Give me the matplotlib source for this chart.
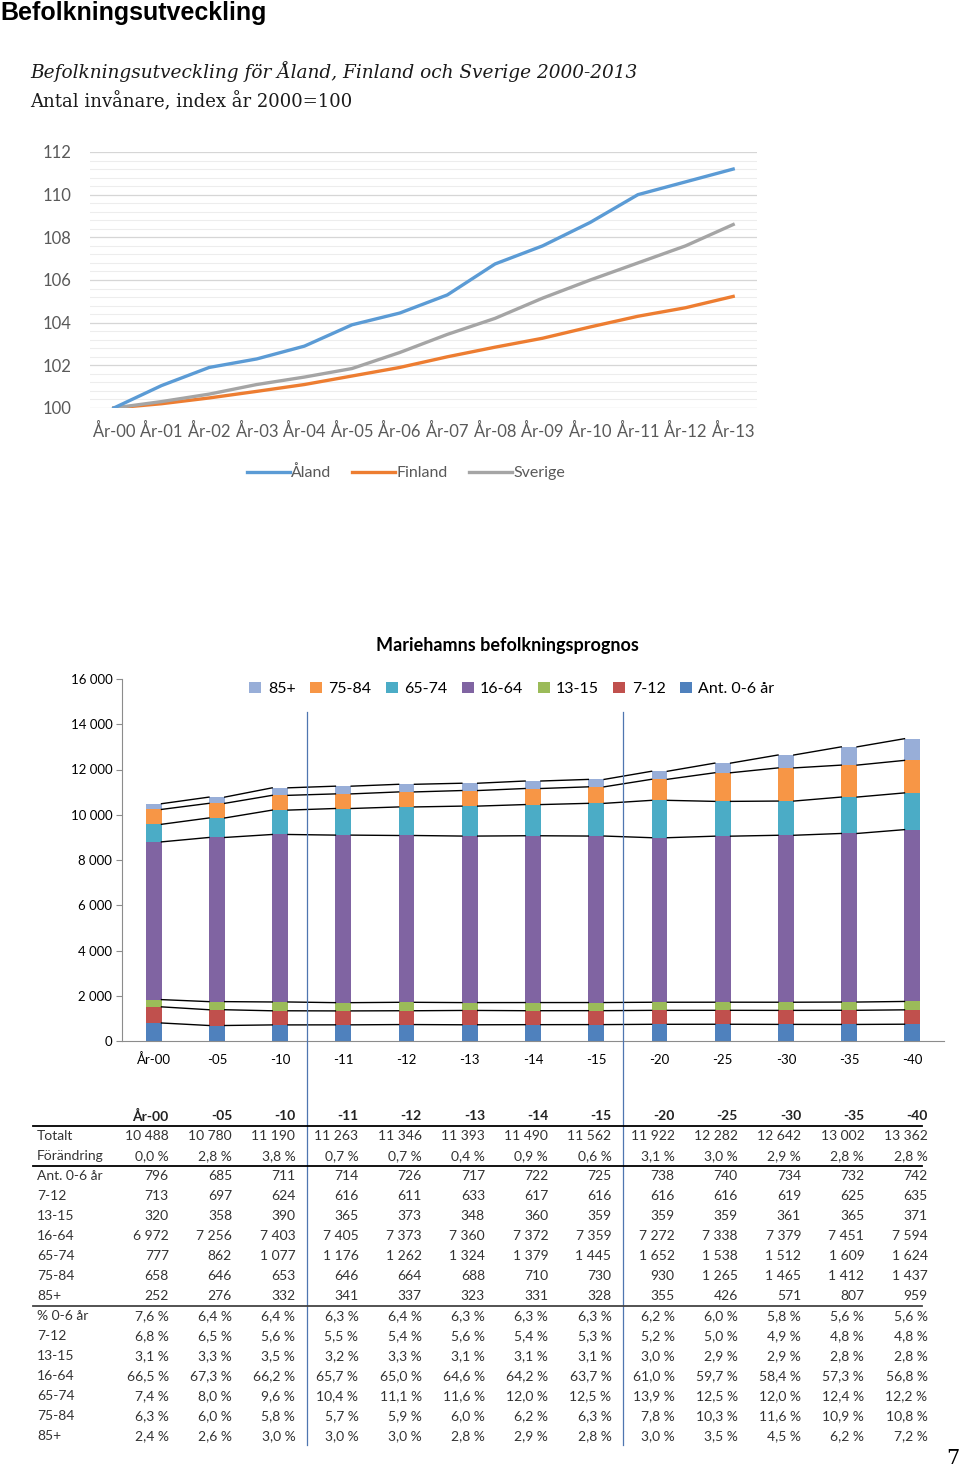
import matplotlib
matplotlib.use("Agg")
import matplotlib.pyplot as plt
import matplotlib.transforms as mtransforms
from matplotlib.lines import Line2D
from matplotlib.ticker import MultipleLocator, FuncFormatter
import numpy as np

plt.rcParams["font.family"] = ["Lato", "DejaVu Sans"]

W, H = 960, 1468

# Befolkningsutveckling 2000-2013, index år 2000=100
years = ["År-00", "År-01", "År-02", "År-03", "År-04", "År-05", "År-06",
         "År-07", "År-08", "År-09", "År-10", "År-11", "År-12", "År-13"]
aland = [100, 101.05, 101.9, 102.3, 102.9, 103.9, 104.45,
         105.3, 106.75, 107.6, 108.7, 110.0, 110.6, 111.2]
finland = [100, 100.2, 100.47, 100.78, 101.1, 101.5, 101.9,
           102.4, 102.85, 103.27, 103.8, 104.3, 104.7, 105.23]
sverige = [100, 100.3, 100.65, 101.1, 101.45, 101.85, 102.6,
           103.45, 104.2, 105.15, 106.0, 106.8, 107.6, 108.6]

# Mariehamns befolkningsprognos
prog_years = ["År-00", "-05", "-10", "-11", "-12", "-13", "-14",
              "-15", "-20", "-25", "-30", "-35", "-40"]
totalt = [10488, 10780, 11190, 11263, 11346, 11393, 11490, 11562, 11922, 12282, 12642, 13002, 13362]
forandring = [0.0, 2.8, 3.8, 0.7, 0.7, 0.4, 0.9, 0.6, 3.1, 3.0, 2.9, 2.8, 2.8]
ant_0_6 = [796, 685, 711, 714, 726, 717, 722, 725, 738, 740, 734, 732, 742]
ant_7_12 = [713, 697, 624, 616, 611, 633, 617, 616, 616, 616, 619, 625, 635]
ant_13_15 = [320, 358, 390, 365, 373, 348, 360, 359, 359, 359, 361, 365, 371]
ant_16_64 = [6972, 7256, 7403, 7405, 7373, 7360, 7372, 7359, 7272, 7338, 7379, 7451, 7594]
ant_65_74 = [777, 862, 1077, 1176, 1262, 1324, 1379, 1445, 1652, 1538, 1512, 1609, 1624]
ant_75_84 = [658, 646, 653, 646, 664, 688, 710, 730, 930, 1265, 1465, 1412, 1437]
ant_85 = [252, 276, 332, 341, 337, 323, 331, 328, 355, 426, 571, 807, 959]

pct_0_6 = [7.6, 6.4, 6.4, 6.3, 6.4, 6.3, 6.3, 6.3, 6.2, 6.0, 5.8, 5.6, 5.6]
pct_7_12 = [6.8, 6.5, 5.6, 5.5, 5.4, 5.6, 5.4, 5.3, 5.2, 5.0, 4.9, 4.8, 4.8]
pct_13_15 = [3.1, 3.3, 3.5, 3.2, 3.3, 3.1, 3.1, 3.1, 3.0, 2.9, 2.9, 2.8, 2.8]
pct_16_64 = [66.5, 67.3, 66.2, 65.7, 65.0, 64.6, 64.2, 63.7, 61.0, 59.7, 58.4, 57.3, 56.8]
pct_65_74 = [7.4, 8.0, 9.6, 10.4, 11.1, 11.6, 12.0, 12.5, 13.9, 12.5, 12.0, 12.4, 12.2]
pct_75_84 = [6.3, 6.0, 5.8, 5.7, 5.9, 6.0, 6.2, 6.3, 7.8, 10.3, 11.6, 10.9, 10.8]
pct_85 = [2.4, 2.6, 3.0, 3.0, 3.0, 2.8, 2.9, 2.8, 3.0, 3.5, 4.5, 6.2, 7.2]

age_groups = ["Ant. 0-6 år", "7-12", "13-15", "16-64", "65-74", "75-84", "85+"]
age_colors = ["#4F81BD", "#C0504D", "#9BBB59", "#8064A2", "#4BACC6", "#F79646", "#98AED8"]


def px_x(px):
    return px / W


def px_y(px):
    return 1 - px / H


def fmt_int(n):
    return f"{n:,}".replace(",", " ")


def fmt_pct(v):
    return f"{v:.1f}".replace(".", ",") + " %"


fig = plt.figure(figsize=(W / 100, H / 100), dpi=100)

# Rubriker
fig.text(px_x(0), px_y(20), "Befolkningsutveckling", family="Liberation Sans",
         fontweight="bold", fontsize=18, va="baseline")
fig.text(px_x(30), px_y(78), "Befolkningsutveckling för Åland, Finland och Sverige 2000-2013",
         family="DejaVu Serif", style="italic", fontsize=13.3, va="baseline", color="#1a1a1a")
fig.text(px_x(30), px_y(107), "Antal invånare, index år 2000=100",
         family="DejaVu Serif", fontsize=13, va="baseline", color="#1a1a1a")

# Linjediagram
ax1 = fig.add_axes([px_x(90), px_y(408), px_x(757) - px_x(90), px_y(152) - px_y(408)])
x1 = np.arange(len(years))
ax1.plot(x1, aland, color="#5B9BD5", lw=2.4, label="Åland", zorder=3)
ax1.plot(x1, finland, color="#ED7D31", lw=2.4, label="Finland", zorder=2)
ax1.plot(x1, sverige, color="#A5A5A5", lw=2.4, label="Sverige", zorder=2)
ax1.set_xlim(-0.5, len(years) - 0.5)
ax1.set_ylim(100, 112)
ax1.yaxis.set_major_locator(MultipleLocator(2))
ax1.yaxis.set_minor_locator(MultipleLocator(0.4))
ax1.grid(which="minor", axis="y", color="#EDEDED", lw=0.8)
ax1.grid(which="major", axis="y", color="#D6D6D6", lw=0.9)
ax1.set_axisbelow(True)
for s in ax1.spines.values():
    s.set_visible(False)
ax1.tick_params(which="both", length=0)
ax1.tick_params(axis="y", pad=13, labelsize=12, labelcolor="#595959")
ax1.tick_params(axis="x", pad=11, labelsize=12, labelcolor="#595959")
ax1.set_xticks(x1)
ax1.set_xticklabels(years)

fig.legend(*ax1.get_legend_handles_labels(), loc="center",
           bbox_to_anchor=(px_x(406), px_y(473)), ncol=3, frameon=False,
           handlelength=2.7, handletextpad=0.1, columnspacing=1.3,
           fontsize=11.5, labelcolor="#595959")

# Stapeldiagram - prognos
ax2 = fig.add_axes([px_x(122), px_y(1041), px_x(944) - px_x(122), px_y(679) - px_y(1041)])
x2 = np.arange(len(prog_years))
series = [ant_0_6, ant_7_12, ant_13_15, ant_16_64, ant_65_74, ant_75_84, ant_85]
bw = 0.25
bottom = np.zeros(len(x2))
tops = []
for vals, col, lab in zip(series, age_colors, age_groups):
    ax2.bar(x2, vals, bw, bottom=bottom, color=col, label=lab, zorder=2)
    bottom = bottom + np.array(vals)
    tops.append(bottom.copy())

# serielinjer mellan staplarna
for top in tops:
    for i in range(len(x2) - 1):
        ax2.plot([x2[i] + bw / 2, x2[i + 1] - bw / 2], [top[i], top[i + 1]],
                 color="black", lw=1.0, zorder=3)

ax2.set_xlim(-0.5, len(x2) - 0.5)
ax2.set_ylim(0, 16000)
ax2.yaxis.set_major_locator(MultipleLocator(2000))
ax2.yaxis.set_major_formatter(FuncFormatter(lambda v, p: fmt_int(int(v))))
ax2.set_xticks(x2)
ax2.set_xticklabels(prog_years)
for side in ["top", "right"]:
    ax2.spines[side].set_visible(False)
for side in ["left", "bottom"]:
    ax2.spines[side].set_color("#8C8C8C")
ax2.tick_params(axis="y", length=4, color="#8C8C8C", labelsize=9.5, pad=3)
ax2.tick_params(axis="x", length=0, labelsize=9.5, pad=9)

fig.text(px_x(507), px_y(646), "Mariehamns befolkningsprognos", fontweight="bold",
         fontsize=13, ha="center", va="center")

h, l = ax2.get_legend_handles_labels()
fig.legend(h[::-1], l[::-1], loc="center", bbox_to_anchor=(px_x(512), px_y(689)),
           ncol=7, frameon=False, handlelength=0.75, handleheight=0.75,
           handletextpad=0.4, columnspacing=0.9, fontsize=11.5)

# Tabell under diagrammet
trans = mtransforms.blended_transform_factory(ax2.transData, fig.transFigure)

# blå avdelare mellan perioderna
for idx in [2, 7]:
    sep = x2[idx] + 0.43
    fig.add_artist(Line2D([sep, sep], [px_y(712), px_y(1445)], transform=trans,
                          color="#4F76B0", lw=0.9))

col_right = x2 + 0.24
for i, lab in enumerate(prog_years):
    fig.text(col_right[i], px_y(1116), lab, transform=trans, ha="right", va="center",
             fontweight="bold", fontsize=10, color="#222222")

rows = [
    ("Totalt", totalt, fmt_int),
    ("Förändring", forandring, fmt_pct),
    ("Ant. 0-6 år", ant_0_6, fmt_int),
    ("7-12", ant_7_12, fmt_int),
    ("13-15", ant_13_15, fmt_int),
    ("16-64", ant_16_64, fmt_int),
    ("65-74", ant_65_74, fmt_int),
    ("75-84", ant_75_84, fmt_int),
    ("85+", ant_85, fmt_int),
    ("% 0-6 år", pct_0_6, fmt_pct),
    ("7-12", pct_7_12, fmt_pct),
    ("13-15", pct_13_15, fmt_pct),
    ("16-64", pct_16_64, fmt_pct),
    ("65-74", pct_65_74, fmt_pct),
    ("75-84", pct_75_84, fmt_pct),
    ("85+", pct_85, fmt_pct),
]
for k, (name, vals, fmt) in enumerate(rows):
    y = px_y(1136 + 20 * k)
    fig.text(px_x(37), y, name, ha="left", va="center", fontsize=10, color="#333333")
    for i, v in enumerate(vals):
        fig.text(col_right[i], y, fmt(v), transform=trans, ha="right", va="center",
                 fontsize=10, color="#333333")

for ypx, col in [(1126, "black"), (1166, "black"), (1306, "#444444")]:
    fig.add_artist(Line2D([px_x(33), px_x(922)], [px_y(ypx), px_y(ypx)],
                          color=col, lw=1.3))

# sidnummer
fig.text(px_x(959), px_y(1468 - 4), "7", family="DejaVu Serif", fontsize=15,
         ha="right", va="baseline")

fig.savefig("out.png", dpi=100)
plt.close(fig)
